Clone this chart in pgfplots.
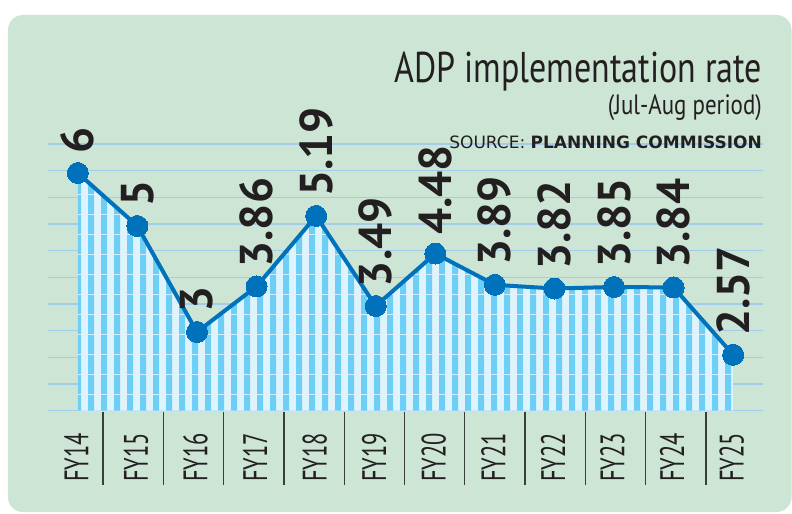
\documentclass[border=0pt]{standalone}
\usepackage{fontspec}
\usepackage{pgfplots}
\usepackage{pgfplotstable}
\pgfplotsset{compat=1.18}
\usetikzlibrary{patterns}
\setmainfont{PT Sans}
\newfontfamily\condfont[FakeStretch=0.66]{PT Sans}
\newfontfamily\titlefont[FakeStretch=0.79]{PT Sans}
\newfontfamily\subfont[FakeStretch=0.82]{PT Sans}
\newfontfamily\srcfont{DejaVu Sans}
\definecolor{panel}{HTML}{CCE5D4}
\definecolor{gridb}{HTML}{A3CBEA}
\definecolor{sdark}{HTML}{6DCFF6}
\definecolor{slight}{HTML}{DFF3FC}
\definecolor{lineb}{HTML}{0072BC}
\definecolor{txt}{HTML}{231F20}
\definecolor{sepc}{HTML}{3C3C3C}
\pgfdeclarepatternformonly{vstripes}{\pgfpointorigin}{\pgfpoint{12.6bp}{20bp}}{\pgfpoint{12.6bp}{20bp}}{\pgfpathrectangle{\pgfpointorigin}{\pgfpoint{6.3bp}{20bp}}\pgfusepath{fill}}
\pgfplotstableread{
x y lab
0 6 6
1 5 5
2 3 3
3 3.86 3.86
4 5.19 5.19
5 3.49 3.49
6 4.48 4.48
7 3.89 3.89
8 3.82 3.82
9 3.85 3.85
10 3.84 3.84
11 2.57 2.57
}\data
\pgfplotsset{base/.style={
  at={(0,0)}, anchor=south west, scale only axis,
  width=715bp, height=266.7bp,
  xmin=-0.5, xmax=11.5, ymin=1.515, ymax=6.547,
  axis line style={draw=none},
  major tick length=0pt,
  ytick={1.515,2.018,2.521,3.025,3.528,4.031,4.534,5.037,5.540,6.044,6.547},
  yticklabels={},
  xtick={0,...,11},
}}
\begin{document}
\begin{tikzpicture}
\useasboundingbox (-48bp,-103.3bp) rectangle (744bp,410.7bp);
\fill[white] (-48bp,-103.3bp) rectangle (744bp,410.7bp);
\fill[panel, rounded corners=15bp] (-40bp,-101.3bp) rectangle (743.5bp,395.7bp);
\begin{axis}[base, xticklabels={}, ymajorgrids, grid style={gridb, line width=1.1bp}]
\addplot[fill=slight, draw=none] table[x=x, y=y]{\data} \closedcycle;
\addplot[pattern=vstripes, pattern color=sdark, draw=none] table[x=x, y=y]{\data} \closedcycle;
\end{axis}
\begin{axis}[base, clip=false,
  xticklabels={FY14,FY15,FY16,FY17,FY18,FY19,FY20,FY21,FY22,FY23,FY24,FY25},
  xticklabel style={yshift=-22.3bp, xshift=-1.5bp, rotate=90, anchor=east, inner sep=0pt, text=txt, font=\condfont\fontsize{34bp}{34bp}\selectfont},
]
\addplot[lineb, line width=4bp, mark=*, mark size=10.5bp,
  mark options={fill=lineb, draw=lineb, line width=0pt},
  nodes near coords, point meta=explicit symbolic,
  nodes near coords style={yshift=19bp, rotate=90, anchor=west, inner sep=0pt, text=txt, font=\bfseries\fontsize{46bp}{46bp}\selectfont}]
  table[x=x, y=y, meta=lab]{\data};
\end{axis}
\foreach \k in {0,...,10} \draw[sepc, line width=1.3bp] ({55bp+\k*60.3bp},-1bp) -- ++(0,-73.3bp);
\node[anchor=base east, inner sep=0pt, text=txt, font=\titlefont\fontsize{43bp}{43bp}\selectfont] at (714bp,327.7bp) {ADP implementation rate};
\node[anchor=base east, inner sep=0pt, text=txt, font=\subfont\fontsize{28bp}{28bp}\selectfont] at (714bp,295.7bp) {(Jul-Aug period)};
\node[anchor=base east, inner sep=0pt, text=txt, font=\srcfont\fontsize{17bp}{17bp}\selectfont] at (714bp,262.4bp) {SOURCE: \textbf{PLANNING COMMISSION}};
\end{tikzpicture}
\end{document}
